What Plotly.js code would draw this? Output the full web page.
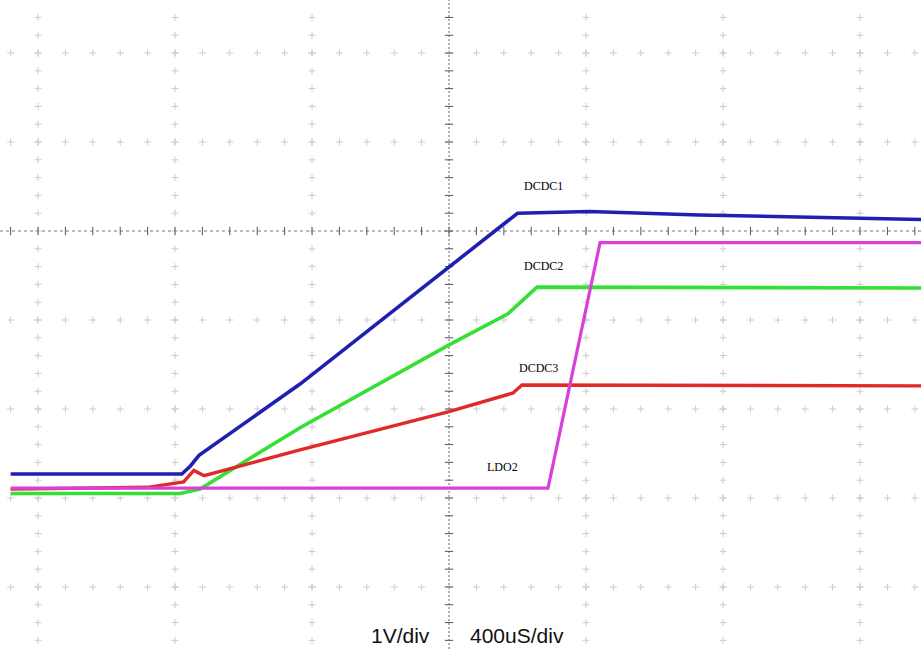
<!DOCTYPE html>
<html>
<head>
<meta charset="utf-8">
<script src="https://cdn.plot.ly/plotly-3.0.1.min.js"></script>
<style>html,body{margin:0;padding:0;background:#fff;}#chart{width:921px;height:649px;}</style>
</head>
<body>
<div id="chart"></div>
<script>
// Time in microseconds (0 = centre of screen), voltage in volts (1 V/div, 400 us/div)
var dcdc1_t = [-1280, -780, -755, -730, -435, 0, 165, 200, 410, 730, 1380];
var dcdc1_v = [0.27, 0.27, 0.36, 0.48, 1.28, 2.60, 3.09, 3.20, 3.22, 3.18, 3.13];

var dcdc2_t = [-1280, -785, -727, -435, 0, 172, 257, 1380];
var dcdc2_v = [0.05, 0.05, 0.10, 0.79, 1.72, 2.07, 2.37, 2.36];

var dcdc3_t = [-1280, -880, -775, -745, -715, -435, 0, 187, 213, 1380];
var dcdc3_v = [0.10, 0.12, 0.18, 0.31, 0.25, 0.54, 0.97, 1.18, 1.27, 1.26];

var ldo2_t = [-1280, 289, 441, 1380];
var ldo2_v = [0.11, 0.11, 2.87, 2.87];

var labelNames = ['DCDC1', 'DCDC2', 'DCDC3', 'LDO2'];
var labelT = [277, 277, 260, 155];
var labelV = [3.51, 2.61, 1.46, 0.35];

var scaleTexts = ['1V/div', '400uS/div'];

// screen geometry
var xRange = [-1311, 1378];
var yRange = [-1.697, 5.596];
var xDiv = 400, yDiv = 1, minorN = 5;
var centreT = 0, centreV = 3;

// grid dots
var gx = [], gy = [];
var kxMin = Math.ceil(xRange[0] / xDiv), kxMax = Math.floor(xRange[1] / xDiv);
var kyMin = Math.ceil(yRange[0] / yDiv), kyMax = Math.floor(yRange[1] / yDiv);
var i, k, v, t;
for (k = kyMin; k <= kyMax; k++) {
  v = k * yDiv;
  if (Math.abs(v - centreV) < 1e-9) continue;
  for (i = Math.ceil(xRange[0] / (xDiv / minorN)); i <= Math.floor(xRange[1] / (xDiv / minorN)); i++) {
    gx.push(i * xDiv / minorN); gy.push(v);
  }
}
for (k = kxMin; k <= kxMax; k++) {
  t = k * xDiv;
  if (Math.abs(t - centreT) < 1e-9) continue;
  for (i = Math.ceil(yRange[0] / (yDiv / minorN)); i <= Math.floor(yRange[1] / (yDiv / minorN)); i++) {
    gx.push(t); gy.push(i * yDiv / minorN);
  }
}
// centre axis ticks
var hx = [], hy = [], vx = [], vy = [];
for (i = Math.ceil(xRange[0] / (xDiv / minorN)); i <= Math.floor(xRange[1] / (xDiv / minorN)); i++) {
  hx.push(i * xDiv / minorN); hy.push(centreV);
}
for (i = Math.ceil(yRange[0] / (yDiv / minorN)); i <= Math.floor(yRange[1] / (yDiv / minorN)); i++) {
  vx.push(centreT); vy.push(i * yDiv / minorN);
}

var traces = [
  {x: gx, y: gy, mode: 'markers', type: 'scatter', hoverinfo: 'skip',
   marker: {symbol: 'cross-thin', size: 5, line: {color: '#cccccc', width: 1}}},
  {x: hx, y: hy, mode: 'markers', type: 'scatter', hoverinfo: 'skip',
   marker: {symbol: 'line-ns', size: 6, line: {color: '#555', width: 1}}},
  {x: vx, y: vy, mode: 'markers', type: 'scatter', hoverinfo: 'skip',
   marker: {symbol: 'line-ew', size: 6, line: {color: '#555', width: 1}}},
  {x: dcdc2_t, y: dcdc2_v, mode: 'lines', type: 'scatter', name: 'DCDC2', line: {color: '#33e033', width: 3.6}},
  {x: dcdc3_t, y: dcdc3_v, mode: 'lines', type: 'scatter', name: 'DCDC3', line: {color: '#e02a2a', width: 3.4}},
  {x: ldo2_t, y: ldo2_v, mode: 'lines', type: 'scatter', name: 'LDO2', line: {color: '#d840d8', width: 3.2}},
  {x: dcdc1_t, y: dcdc1_v, mode: 'lines', type: 'scatter', name: 'DCDC1', line: {color: '#2020b0', width: 3.6}}
];

var annotations = [];
for (i = 0; i < labelNames.length; i++) {
  annotations.push({x: labelT[i], y: labelV[i], xref: 'x', yref: 'y', text: labelNames[i], showarrow: false,
    font: {family: 'Liberation Serif', size: 12, color: '#000'}});
}
annotations.push({x: centreT - 50, y: -1.55, xref: 'x', yref: 'y', text: scaleTexts[0], showarrow: false,
  xanchor: 'right', yanchor: 'middle', font: {family: 'Liberation Sans', size: 21, color: '#111'}});
annotations.push({x: centreT + 55, y: -1.55, xref: 'x', yref: 'y', text: scaleTexts[1], showarrow: false,
  xanchor: 'left', yanchor: 'middle', font: {family: 'Liberation Sans', size: 21, color: '#111'}});

var layout = {
  width: 921, height: 649,
  margin: {l: 0, r: 0, t: 0, b: 0},
  paper_bgcolor: '#fff', plot_bgcolor: '#fff',
  showlegend: false, hovermode: false,
  xaxis: {range: xRange, showgrid: false, zeroline: false, showticklabels: false, ticks: '', fixedrange: true},
  yaxis: {range: yRange, showgrid: false, zeroline: false, showticklabels: false, ticks: '', fixedrange: true},
  shapes: [
    {type: 'line', xref: 'paper', x0: 0, x1: 1, yref: 'y', y0: centreV, y1: centreV, layer: 'below',
     line: {color: '#777', width: 1, dash: '3px,3px'}},
    {type: 'line', yref: 'paper', y0: 0, y1: 1, xref: 'x', x0: centreT, x1: centreT, layer: 'below',
     line: {color: '#666', width: 1, dash: '2px,2px'}}
  ],
  annotations: annotations
};

Plotly.newPlot('chart', traces, layout, {displayModeBar: false, staticPlot: true});
</script>
</body>
</html>
